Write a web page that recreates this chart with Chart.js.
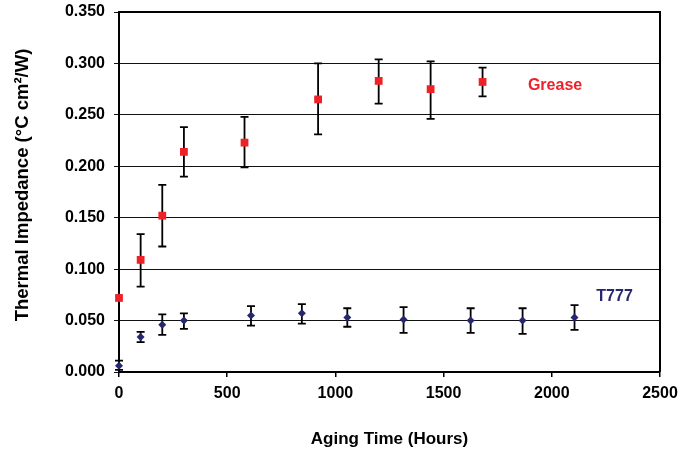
<!DOCTYPE html>
<html>
<head>
<meta charset="utf-8">
<script src="https://cdn.jsdelivr.net/npm/chart.js@4.4.1/dist/chart.umd.min.js"></script>
<style>
  html, body { margin: 0; padding: 0; background: #fff; }
</style>
</head>
<body>
<canvas id="impedanceChart" width="678" height="456"></canvas>
<script>
// Grease series (hours, value, error bar top / bottom)
const greaseHours  = [0, 100, 200, 300, 580, 920, 1200, 1440, 1680];
const greaseValues = [0.072, 0.109, 0.152, 0.214, 0.223, 0.265, 0.283, 0.275, 0.282];
const greaseHigh   = [null, 0.134, 0.182, 0.238, 0.248, 0.300, 0.304, 0.302, 0.296];
const greaseLow    = [null, 0.083, 0.122, 0.190, 0.199, 0.231, 0.261, 0.246, 0.268];

// T777 series
const t777Hours  = [0, 100, 200, 300, 610, 845, 1055, 1315, 1625, 1865, 2105];
const t777Values = [0.006, 0.034, 0.046, 0.050, 0.055, 0.057, 0.053, 0.051, 0.050, 0.050, 0.053];
const t777High   = [0.011, 0.039, 0.056, 0.057, 0.064, 0.066, 0.062, 0.063, 0.062, 0.062, 0.065];
const t777Low    = [0.002, 0.029, 0.036, 0.042, 0.045, 0.047, 0.044, 0.038, 0.038, 0.037, 0.041];

const xTicks = [0, 500, 1000, 1500, 2000, 2500];
const yTicks = [0, 0.05, 0.10, 0.15, 0.20, 0.25, 0.30, 0.35];

const seriesNames = ['Grease', 'T777'];
const nameAnchors = [[2015, 0.278], [2290, 0.073]];
const yTitle = 'Thermal Impedance (°C cm²/W)';

const toPoints = (xs, ys) => xs.map((x, i) => ({ x: x, y: ys[i] }));
const errorBars = [[greaseHigh, greaseLow], [t777High, t777Low]];
const seriesColors = ['#ee2128', '#27276f'];
const fontFamily = '"Liberation Sans", Arial, sans-serif';

// error bars under the markers, frame, names and the y title on top
const errorBarPlugin = {
    id: 'errorBars',
    beforeDatasetsDraw(chart) {
        const ctx = chart.ctx;
        const y = chart.scales.y;
        ctx.save();
        ctx.strokeStyle = '#000';
        ctx.lineWidth = 1.8;
        chart.data.datasets.forEach((ds, di) => {
            const meta = chart.getDatasetMeta(di);
            const [hi, lo] = errorBars[di];
            meta.data.forEach((pt, i) => {
                if (hi[i] == null) return;
                const top = y.getPixelForValue(hi[i]);
                const bot = y.getPixelForValue(lo[i]);
                ctx.beginPath();
                ctx.moveTo(pt.x, top); ctx.lineTo(pt.x, bot);
                ctx.moveTo(pt.x - 4, top); ctx.lineTo(pt.x + 4, top);
                ctx.moveTo(pt.x - 4, bot); ctx.lineTo(pt.x + 4, bot);
                ctx.stroke();
            });
        });
        ctx.restore();
    },
    afterDraw(chart) {
        const ctx = chart.ctx;
        const a = chart.chartArea;
        ctx.save();
        ctx.strokeStyle = '#000';
        ctx.lineWidth = 2;
        ctx.beginPath();
        ctx.moveTo(a.left, a.top); ctx.lineTo(a.right, a.top); ctx.lineTo(a.right, a.bottom);
        ctx.stroke();

        ctx.font = 'bold 16px ' + fontFamily;
        ctx.textAlign = 'center';
        ctx.textBaseline = 'middle';
        seriesNames.forEach((name, i) => {
            ctx.fillStyle = seriesColors[i];
            ctx.fillText(name,
                chart.scales.x.getPixelForValue(nameAnchors[i][0]),
                chart.scales.y.getPixelForValue(nameAnchors[i][1]));
        });

        ctx.translate(23, (a.top + a.bottom) / 2 - 7);
        ctx.rotate(-Math.PI / 2);
        ctx.fillStyle = '#000';
        ctx.font = 'bold 18.5px ' + fontFamily;
        ctx.fillText(yTitle, 0, 0);
        ctx.restore();
    }
};

const tickFont = { family: fontFamily, size: 16, weight: 'bold' };

new Chart(document.getElementById('impedanceChart').getContext('2d'), {
    type: 'scatter',
    data: {
        datasets: [{
            label: seriesNames[0],
            data: toPoints(greaseHours, greaseValues),
            pointStyle: 'rect',
            pointRadius: 5.5,
            backgroundColor: seriesColors[0],
            borderWidth: 0,
            clip: false
        }, {
            label: seriesNames[1],
            data: toPoints(t777Hours, t777Values),
            pointStyle: 'rectRot',
            pointRadius: 4,
            backgroundColor: seriesColors[1],
            borderWidth: 0,
            clip: false
        }]
    },
    options: {
        responsive: false,
        animation: false,
        devicePixelRatio: 1,
        layout: { padding: { left: 0, right: 18, top: 12, bottom: 0 } },
        plugins: { legend: { display: false }, tooltip: { enabled: false } },
        scales: {
            x: {
                type: 'linear',
                min: 0,
                max: 2500,
                afterBuildTicks: s => { s.ticks = xTicks.map(v => ({ value: v })); },
                afterFit: s => { s.height = 84; s.paddingLeft = 0; s.paddingRight = 0; },
                grid: { drawOnChartArea: false, drawTicks: true, tickLength: 5, color: '#000', lineWidth: 1.5 },
                border: { color: '#000', width: 2 },
                ticks: { color: '#000', font: tickFont, padding: 7, maxRotation: 0, callback: v => String(v) },
                title: { display: true, text: 'Aging Time (Hours)', color: '#000', font: { family: fontFamily, size: 17, weight: 'bold' }, padding: { top: 4, bottom: 6 } }
            },
            y: {
                type: 'linear',
                min: 0,
                max: 0.35,
                afterBuildTicks: s => { s.ticks = yTicks.map(v => ({ value: v })); },
                afterFit: s => { s.width = 119; s.paddingTop = 0; s.paddingBottom = 0; },
                grid: { drawTicks: true, tickLength: 5, color: '#111', lineWidth: 1 },
                border: { color: '#000', width: 2 },
                ticks: { color: '#000', font: tickFont, padding: 9, callback: v => v.toFixed(3) }
            }
        }
    },
    plugins: [errorBarPlugin]
});
</script>
</body>
</html>
